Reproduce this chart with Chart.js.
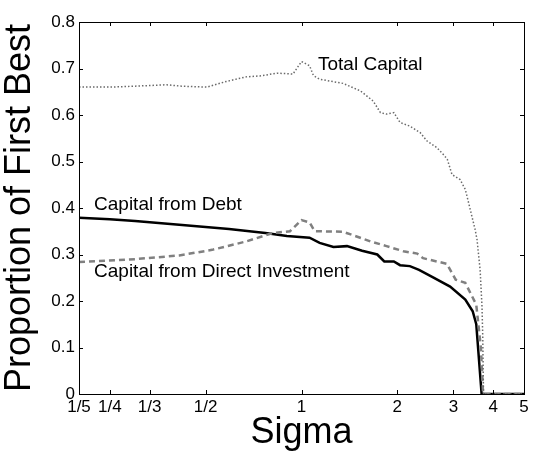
<!DOCTYPE html>
<html>
<head>
<meta charset="utf-8">
<script src="https://cdn.jsdelivr.net/npm/chart.js@4"></script>
<style>
  html, body { margin: 0; padding: 0; background: #fff; }
  canvas { display: block; }
</style>
</head>
<body>
<canvas id="sigma-chart" width="533" height="456"></canvas>
<script>
// values
const totalSigma = [0.2, 0.25, 0.3, 0.377, 0.42, 0.504, 0.58, 0.67, 0.74, 0.84, 0.94, 1.0, 1.06, 1.09, 1.14, 1.35, 1.53, 1.68, 1.77, 1.85, 1.95, 2.04, 2.19, 2.36, 2.48, 2.66, 2.79, 2.87, 2.97, 3.15, 3.27, 3.35, 3.43, 3.51, 3.56, 3.64, 3.69, 3.71, 3.73, 5];
const totalCapital = [0.660, 0.660, 0.662, 0.665, 0.662, 0.660, 0.672, 0.682, 0.684, 0.690, 0.688, 0.715, 0.706, 0.685, 0.677, 0.668, 0.652, 0.630, 0.605, 0.602, 0.605, 0.584, 0.576, 0.562, 0.544, 0.530, 0.515, 0.505, 0.472, 0.461, 0.440, 0.411, 0.382, 0.354, 0.332, 0.267, 0.188, 0.124, 0, 0];

const debtSigma = [0.2, 0.25, 0.3, 0.413, 0.592, 0.77, 0.9, 1.06, 1.14, 1.26, 1.39, 1.55, 1.73, 1.82, 1.95, 2.04, 2.19, 2.34, 2.59, 2.93, 3.27, 3.45, 3.54, 3.68, 5];
const debtCapital = [0.379, 0.376, 0.372, 0.364, 0.355, 0.346, 0.340, 0.336, 0.325, 0.316, 0.318, 0.308, 0.300, 0.285, 0.285, 0.277, 0.275, 0.267, 0.251, 0.231, 0.203, 0.178, 0.150, 0, 0];

const directSigma = [0.2, 0.3, 0.413, 0.524, 0.67, 0.81, 0.92, 1.0, 1.06, 1.10, 1.35, 1.65, 1.85, 2.09, 2.31, 2.41, 2.86, 3.05, 3.27, 3.54, 3.66, 3.72, 5];
const directCapital = [0.284, 0.290, 0.298, 0.310, 0.328, 0.346, 0.350, 0.374, 0.369, 0.350, 0.349, 0.328, 0.318, 0.307, 0.302, 0.292, 0.280, 0.246, 0.239, 0.192, 0.100, 0, 0];

const xTickValues = [0.2, 0.25, 1 / 3, 0.5, 1, 2, 3, 4, 5];
const xTickLabels = ['1/5', '1/4', '1/3', '1/2', '1', '2', '3', '4', '5'];

// in-plot labels: [text, sigma, value] (left edge / baseline)
const seriesNotes = [
  ['Total Capital', 1.127, 0.697],
  ['Capital from Debt', 0.223, 0.395],
  ['Capital from Direct Investment', 0.223, 0.251],
];

Chart.defaults.font.family = '"Liberation Sans", Arial, Helvetica, sans-serif';
Chart.defaults.color = '#000';

function toPoints(xs, ys) {
  return xs.map((x, i) => ({ x: x, y: ys[i] }));
}

// MATLAB style box with inward ticks + text labels
const boxPlugin = {
  id: 'matlabBox',
  afterDatasetsDraw(chart) {
    const { ctx, chartArea: a, scales } = chart;
    const tick = 4;
    ctx.save();
    ctx.strokeStyle = '#000';
    ctx.lineWidth = 1;
    ctx.strokeRect(a.left + 0.5, a.top + 0.5, a.right - a.left, a.bottom - a.top);
    ctx.beginPath();
    xTickValues.forEach(v => {
      const px = Math.round(scales.x.getPixelForValue(v)) + 0.5;
      ctx.moveTo(px, a.bottom); ctx.lineTo(px, a.bottom - tick);
      ctx.moveTo(px, a.top); ctx.lineTo(px, a.top + tick);
    });
    scales.y.ticks.forEach(t => {
      const py = Math.round(scales.y.getPixelForValue(t.value)) + 0.5;
      ctx.moveTo(a.left, py); ctx.lineTo(a.left + tick, py);
      ctx.moveTo(a.right, py); ctx.lineTo(a.right - tick, py);
    });
    ctx.stroke();

    ctx.fillStyle = '#000';
    ctx.font = '19px "Liberation Sans", Arial, sans-serif';
    ctx.textAlign = 'left';
    ctx.textBaseline = 'alphabetic';
    seriesNotes.forEach(([text, sx, sy]) => {
      ctx.fillText(text, scales.x.getPixelForValue(sx), scales.y.getPixelForValue(sy));
    });
    ctx.restore();
  }
};

const ctx = document.getElementById('sigma-chart').getContext('2d');

const sigmaChart = new Chart(ctx, {
  type: 'line',
  data: {
    datasets: [
      {
        label: 'Total Capital',
        data: toPoints(totalSigma, totalCapital),
        borderColor: '#6a6a6a',
        borderWidth: 1.5,
        borderDash: [1.5, 2],
      },
      {
        label: 'Capital from Direct Investment',
        data: toPoints(directSigma, directCapital),
        borderColor: '#808080',
        borderWidth: 2.5,
        borderDash: [6, 4],
      },
      {
        label: 'Capital from Debt',
        data: toPoints(debtSigma, debtCapital),
        borderColor: '#000000',
        borderWidth: 2.5,
      },
    ]
  },
  options: {
    responsive: false,
    devicePixelRatio: 1,
    animation: false,
    elements: {
      point: { radius: 0 },
      line: { tension: 0, fill: false },
    },
    layout: {
      padding: { top: 22, right: 9, left: 0, bottom: 0 }
    },
    plugins: {
      legend: { display: false },
      tooltip: { enabled: false },
    },
    scales: {
      x: {
        type: 'logarithmic',
        min: 0.2,
        max: 5,
        grid: { display: false, drawTicks: false },
        border: { display: false },
        afterBuildTicks: (scale) => {
          scale.ticks = xTickValues.map(v => ({ value: v }));
        },
        afterFit: (scale) => { scale.height = 62; },
        ticks: {
          autoSkip: false,
          maxRotation: 0,
          padding: 3,
          font: { size: 17 },
          callback: (value) => {
            const i = xTickValues.findIndex(v => Math.abs(v - value) < 1e-6);
            return i >= 0 ? xTickLabels[i] : '';
          }
        },
        title: {
          display: true,
          text: 'Sigma',
          font: { size: 36, lineHeight: 1 },
          padding: { top: 0, bottom: 5 },
        }
      },
      y: {
        min: 0,
        max: 0.8,
        grid: { display: false, drawTicks: false },
        border: { display: false },
        afterFit: (scale) => { scale.width = 79; },
        ticks: {
          stepSize: 0.1,
          padding: 4,
          font: { size: 17 },
          callback: (value) => value === 0 ? '0' : value.toFixed(1)
        },
        title: {
          display: true,
          text: 'Proportion of First Best',
          font: { size: 36, lineHeight: 1 },
          padding: { top: 2, bottom: 0 },
        }
      }
    }
  },
  plugins: [boxPlugin]
});
</script>
</body>
</html>
